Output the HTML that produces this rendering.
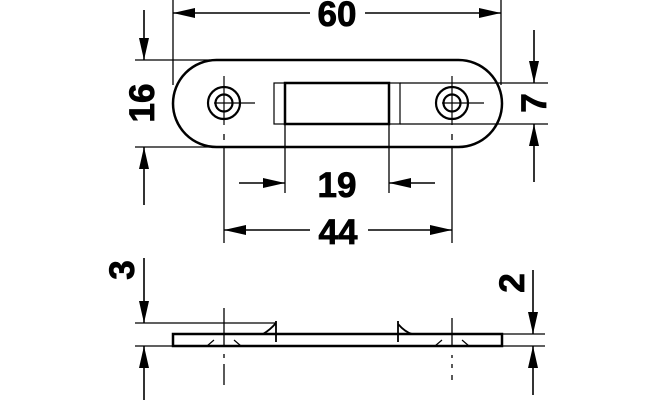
<!DOCTYPE html>
<html><head><style>body{margin:0;background:#fff}svg{display:block}</style></head><body>
<svg width="660" height="400" viewBox="0 0 660 400" xmlns="http://www.w3.org/2000/svg" font-family="Liberation Sans, sans-serif" font-weight="bold" font-size="35">
<defs><marker id="a" viewBox="0 0 22 10" refX="22" refY="5" markerWidth="22" markerHeight="10" markerUnits="userSpaceOnUse" orient="auto"><path d="M0,0L22,5L0,10z" fill="#000"/></marker></defs>
<g stroke="#000" fill="none" stroke-width="1.6">
<rect x="173" y="60" width="329" height="87" rx="43.5" stroke-width="2.5"/>
<rect x="274" y="83" width="126" height="41" stroke-width="1.2"/>
<rect x="285" y="83" width="104" height="41" stroke-width="2.5"/>
<circle cx="224" cy="103" r="16" stroke-width="2.2"/><circle cx="224" cy="103" r="8.5" stroke-width="2.2"/>
<circle cx="452" cy="103" r="16" stroke-width="2.2"/><circle cx="452" cy="103" r="8.5" stroke-width="2.2"/>
<path d="M224 76V125M214 103H255M452 76V125M442 103H484" stroke-width="1.2"/>
<path d="M173 0V85M501 0V85" stroke-width="1.3"/>
<path d="M310 13H173" marker-end="url(#a)"/><path d="M365 13H501" marker-end="url(#a)"/>
<path d="M135 60H210M135 147H210" stroke-width="1.3"/>
<path d="M144 10V60" marker-end="url(#a)"/><path d="M144 205V147" marker-end="url(#a)"/>
<path d="M400 83H548M400 124H548" stroke-width="1.3"/>
<path d="M534 30V83" marker-end="url(#a)"/><path d="M534 182V124" marker-end="url(#a)"/>
<path d="M285 124V193M389 124V193" stroke-width="1.3"/>
<path d="M239 183H285" marker-end="url(#a)"/><path d="M435 183H389" marker-end="url(#a)"/>
<path d="M224 134V140M224 147V243M452 134V140M452 147V243" stroke-width="1.3"/>
<path d="M310 230H224" marker-end="url(#a)"/><path d="M368 230H452" marker-end="url(#a)"/>
<rect x="173" y="334" width="329" height="12" stroke-width="2.5"/>
<path d="M135 323H276M135 346H173M502 334H545M502 346H545" stroke-width="1.3"/>
<path d="M276 321V342M263 334Q270 330 276 323M398 321V342M398 324Q405 332 412 334" stroke-width="1.8"/>
<path d="M207 346L214 340M241 346L234 340M435 346L442 340M469 346L462 340" stroke-width="1.2"/>
<path d="M224 308V346M224 354V358M224 364V385M452 318V346M452 355V358M452 364V368M452 375V380" stroke-width="1.3"/>
<path d="M144 258V323" marker-end="url(#a)"/><path d="M144 400V346" marker-end="url(#a)"/>
<path d="M533 270V334" marker-end="url(#a)"/><path d="M533 395V346" marker-end="url(#a)"/>
</g>
<g fill="#000" text-anchor="middle" stroke="#000" stroke-width="0.8">
<text x="337" y="26">60</text>
<text x="337" y="197">19</text>
<text x="338" y="244">44</text>
<text transform="translate(154,103) rotate(-90)">16</text>
<text transform="translate(546,103) rotate(-90)">7</text>
<text transform="translate(134,270) rotate(-90)">3</text>
<text transform="translate(524,283) rotate(-90)">2</text>
</g>
</svg>
</body></html>
